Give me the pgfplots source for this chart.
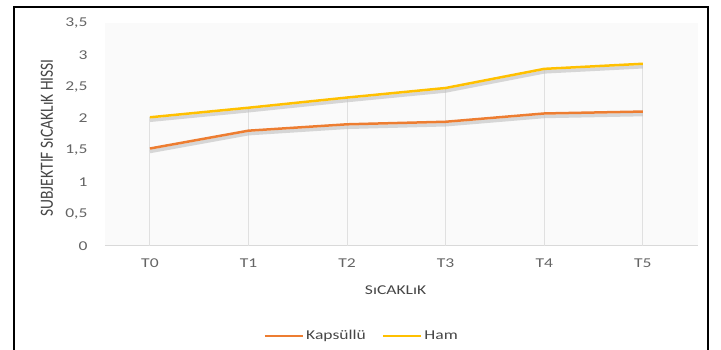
\documentclass[border=0pt]{standalone}
\usepackage{pgfplots}
\pgfplotsset{compat=1.18}
\usepackage{fontspec}
\setmainfont[FakeStretch=1.3]{Carlito}
\newfontfamily\plainfont{Carlito}
\definecolor{kaps}{RGB}{237,125,49}
\definecolor{ham}{RGB}{255,192,0}
\definecolor{ticktxt}{RGB}{100,100,100}
\definecolor{titletxt}{RGB}{70,70,70}
\begin{document}
\begin{tikzpicture}[x=1pt,y=1pt]
\path[use as bounding box] (0,0) rectangle (721,350);
\draw[line width=2pt] (14,-5) -- (14,343) -- (708,343) -- (708,-5);
\begin{axis}[
  at={(105pt,104pt)}, anchor=south west,
  scale only axis, width=593pt, height=223pt,
  xmin=-0.456, xmax=5.56, ymin=0, ymax=3.5,
  xtick={0,1,2,3,4,5}, xticklabels={T0,T1,T2,T3,T4,T5},
  ytick={0,0.5,1,1.5,2,2.5,3,3.5},
  /pgf/number format/use comma,
  /pgf/number format/assume math mode=true,
  axis x line*=bottom, axis y line*=left,
  y axis line style={draw=none},
  x axis line style={draw=black!15, line width=1pt},
  major tick length=0pt, tick style={draw=none},
  axis background/.style={fill=black!2},
  ticklabel style={font=\fontsize{13.5}{15}\selectfont, text=ticktxt},
  xticklabel style={yshift=-9pt},
  yticklabel style={xshift=-14pt},
  xlabel={SıCAKLıK},
  ylabel={SUBJEKTIF SıCAKLıK HISSI},
  label style={font=\fontsize{13.5}{15}\selectfont, text=titletxt},
  xlabel style={at={(axis description cs:0.49,-0.20)}, anchor=center},
  ylabel style={at={(axis description cs:-0.098,0.485)}, anchor=center, font=\plainfont\fontsize{15.5}{17}\selectfont, yscale=1.2},
  legend style={at={(axis description cs:0.433,-0.403)}, anchor=center,
    draw=none, fill=none, font=\fontsize{13.5}{15}\selectfont, text=titletxt,
    /tikz/every even column/.append style={column sep=14pt}},
  legend columns=2,
  legend image code/.code={\draw[#1, line width=2.5pt] (0pt,0pt) -- (38pt,0pt);},
]
% drop lines
\addplot[ycomb, draw=black!12, line width=1pt, forget plot] coordinates {
  (0,2.02) (1,2.17) (2,2.33) (3,2.48) (4,2.78) (5,2.86)};
% shadows
\addplot[draw=black!25, line width=3.5pt, yshift=-3pt, line join=round, opacity=0.6, forget plot] coordinates {
  (0,1.53) (1,1.81) (2,1.91) (3,1.95) (4,2.08) (5,2.11)};
\addplot[draw=black!25, line width=3.5pt, yshift=-3pt, line join=round, opacity=0.6, forget plot] coordinates {
  (0,2.02) (1,2.17) (2,2.33) (3,2.48) (4,2.78) (5,2.86)};
% series
\addplot[draw=kaps, line width=2.5pt, line join=round] coordinates {
  (0,1.53) (1,1.81) (2,1.91) (3,1.95) (4,2.08) (5,2.11)};
\addlegendentry{Kapsüllü}
\addplot[draw=ham, line width=2.5pt, line join=round] coordinates {
  (0,2.02) (1,2.17) (2,2.33) (3,2.48) (4,2.78) (5,2.86)};
\addlegendentry{Ham}
\end{axis}
\end{tikzpicture}
\end{document}
